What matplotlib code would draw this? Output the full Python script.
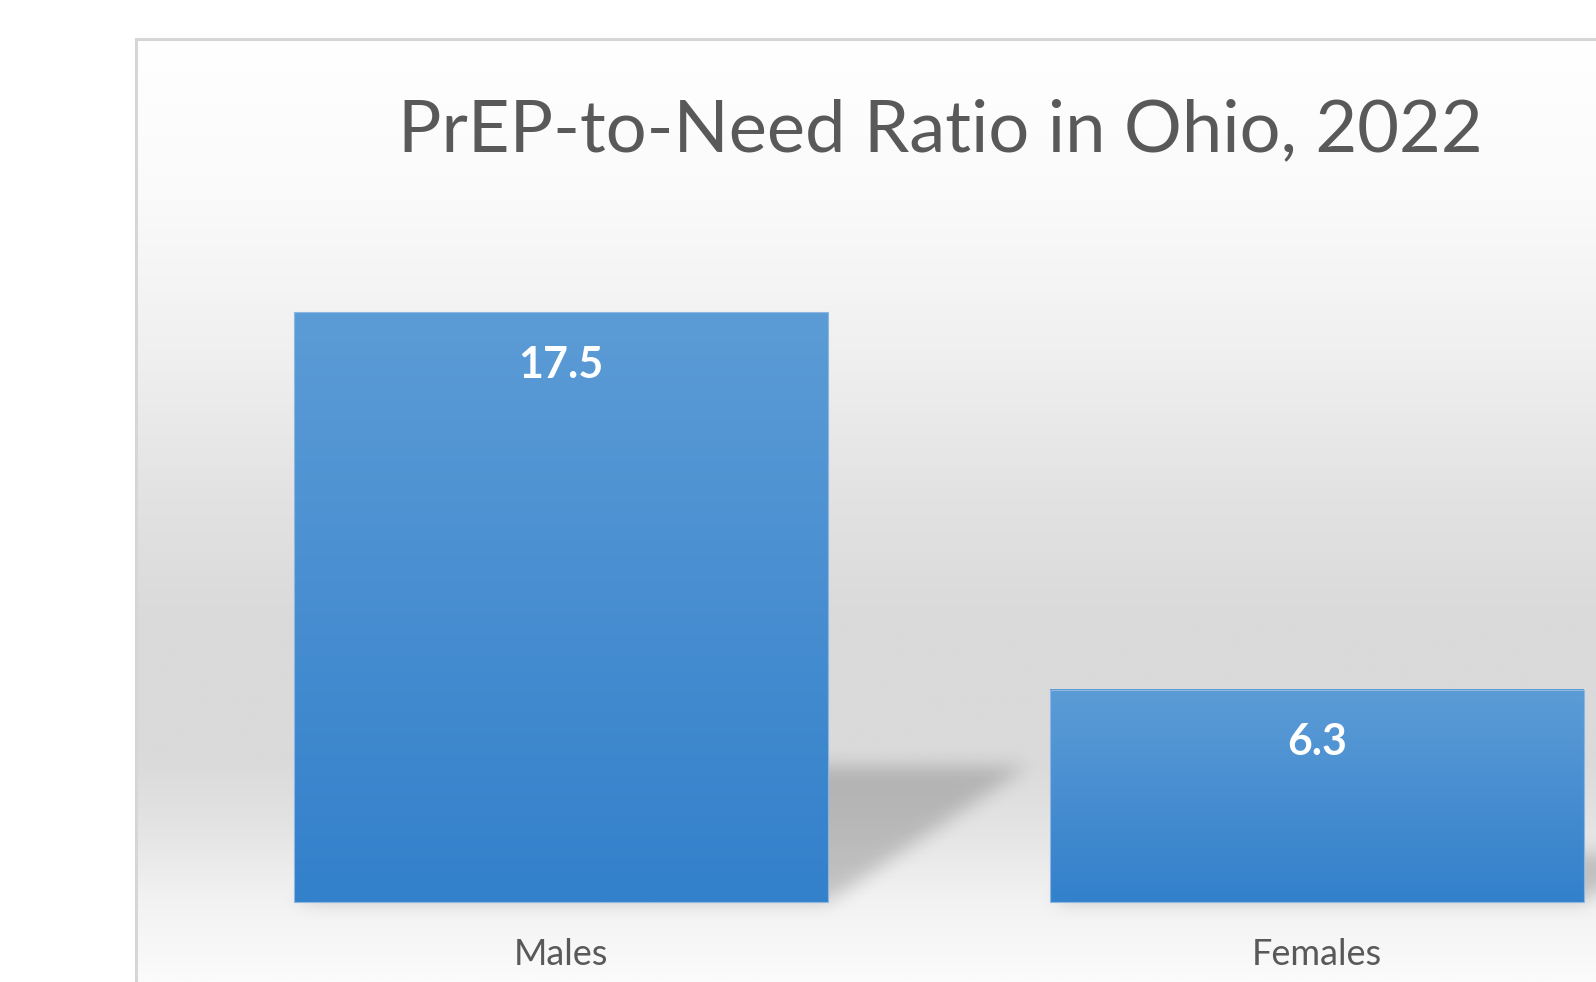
import numpy as np
import matplotlib
matplotlib.use('Agg')
import matplotlib.pyplot as plt
from matplotlib.patches import Rectangle
from matplotlib.colors import LinearSegmentedColormap

# chart data
categories = ['Males', 'Females']
ratios = [17.5, 6.3]
title = 'PrEP-to-Need Ratio in Ohio, 2022'

FIG_W, FIG_H, DPI = 1596, 982, 100
FONT = 'Lato'
TEXT_COLOR = '#595959'
BAR_TOP = '#5c9cd6'
BAR_BOTTOM = '#3380cb'
BAR_WIDTH = 0.706


def px_x(p):
    return p / FIG_W


def px_y(p):
    return 1 - p / FIG_H


def gaussian_blur(arr, sigma_x, sigma_y):
    def kernel(s):
        r = int(3 * s) + 1
        k = np.exp(-0.5 * (np.arange(-r, r + 1) / s) ** 2)
        return k / k.sum()
    kx, ky = kernel(sigma_x), kernel(sigma_y)
    arr = np.apply_along_axis(lambda m: np.convolve(m, kx, mode='same'), 1, arr)
    arr = np.apply_along_axis(lambda m: np.convolve(m, ky, mode='same'), 0, arr)
    return arr


fig = plt.figure(figsize=(FIG_W / DPI, FIG_H / DPI), dpi=DPI)
fig.patch.set_facecolor('white')

# plot area, mapped so one category = 756 px and one unit = 33.7 px
ax_left, ax_top = 136, 40
ax = fig.add_axes([px_x(ax_left), 0, 1 - px_x(ax_left), px_y(ax_top)])
x_per_px = 1 / 756
y_per_px = 1 / 33.7
x_zero_px, y_zero_px = 561, 902
ax.set_xlim((ax_left - x_zero_px) * x_per_px, (FIG_W - x_zero_px) * x_per_px)
ax.set_ylim(-(FIG_H - y_zero_px) * y_per_px, (y_zero_px - ax_top) * y_per_px)
ax.set_axis_off()

# background gradient (pixel row -> grey level)
stop_px = np.array([40, 200, 350, 500, 620, 760, 830, 900, 982])
stop_val = np.array([255, 250, 240, 226, 218, 218, 228, 242, 251]) / 255
rows = np.linspace(ax_top, FIG_H, 600)
grey = np.interp(rows, stop_px, stop_val)
bg = np.repeat(grey[:, None], 2, axis=1)
ax.imshow(np.dstack([bg, bg, bg]), extent=[0, 1, 0, 1], transform=ax.transAxes,
          aspect='auto', zorder=0, interpolation='bilinear')

# perspective shadows behind the bars
shear = (200 * x_per_px) / max(ratios)
squash = 0.23
for i, v in enumerate(ratios):
    h = v * squash
    dx = v * shear
    x0, x1 = i - BAR_WIDTH / 2 - 0.05, i + BAR_WIDTH / 2 + dx + 0.05
    y0, y1 = -0.8, h + 0.8
    gx = np.linspace(x0, x1, 500)
    gy = np.linspace(y0, y1, 200)
    X, Y = np.meshgrid(gx, gy)
    t = Y / h
    left = i - BAR_WIDTH / 2 + t * dx
    right = i + BAR_WIDTH / 2 + t * dx
    mask = ((t >= 0) & (t <= 1) & (X >= left) & (X <= right)).astype(float)
    sx = 9 * x_per_px / ((x1 - x0) / 500)
    sy = 9 * y_per_px / ((y1 - y0) / 200)
    mask = gaussian_blur(mask, sx, sy)
    rgba = np.zeros(mask.shape + (4,))
    rgba[..., 3] = mask * 0.19
    ax.imshow(rgba, extent=[x0, x1, y0, y1], origin='lower', aspect='auto',
              zorder=1, interpolation='bilinear')

# gradient-filled bars
bar_cmap = LinearSegmentedColormap.from_list('bar', [BAR_BOTTOM, BAR_TOP])
grad = np.linspace(0, 1, 256)[:, None]
bars = ax.bar(range(len(categories)), ratios, width=BAR_WIDTH, color='none',
              edgecolor='#8db7e2', linewidth=0.8, zorder=3)
for rect in bars:
    x, w, hgt = rect.get_x(), rect.get_width(), rect.get_height()
    ax.imshow(grad, cmap=bar_cmap, extent=[x, x + w, 0, hgt], origin='lower',
              aspect='auto', zorder=2)

# data labels and category labels
for i, (cat, v) in enumerate(zip(categories, ratios)):
    ax.annotate(f'{v:.1f}', (i, v), xytext=(0, -38), textcoords='offset points',
                ha='center', va='center', color='white', fontsize=31,
                fontweight='bold', family=FONT, zorder=4)
    ax.text(i, -(965 - y_zero_px) * y_per_px, cat, ha='center', va='baseline',
            color=TEXT_COLOR, fontsize=26, family=FONT, zorder=4)

fig.text(px_x(940), px_y(151), title, ha='center', va='baseline',
         color=TEXT_COLOR, fontsize=52, family=FONT)

# chart border
frame = Rectangle((px_x(135.5), -0.1), 1, px_y(38.5) + 0.1, transform=fig.transFigure,
                  fill=False, edgecolor='#d6d6d6', linewidth=2.2, zorder=10)
fig.patches.append(frame)

fig.savefig('out.png', dpi=DPI)
